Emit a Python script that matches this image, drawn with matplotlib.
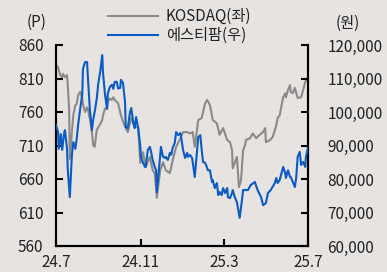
import matplotlib
matplotlib.use("Agg")
import matplotlib.pyplot as plt
import numpy as np

plt.rcParams['font.family'] = ['Noto Sans CJK KR', 'DejaVu Sans']

# Days since 2024-07-01
kosdaq_days = [0, 3, 6, 9, 10, 13, 16, 17, 19, 20, 23, 25, 28, 30, 32, 35, 38, 39, 42, 45,
               46, 49, 52, 54, 56, 59, 61, 64, 67, 68, 71, 74, 75, 78, 81, 83, 85, 88, 90, 94,
               100, 104, 109, 114, 119, 122, 126, 130, 136, 140, 143, 146, 151, 155, 159, 165,
               169, 174, 180, 184, 190, 194, 198, 201, 206, 211, 216, 219, 223, 227, 233, 237,
               242, 248, 252, 255, 256, 262, 265, 268, 271, 274, 275, 281, 285, 290, 295, 300,
               303, 304, 310, 314, 319, 321, 324, 326, 329, 332, 333, 336, 339, 340, 343, 346,
               350, 355, 358, 361, 365]
kosdaq = [830, 827, 815, 812, 817, 812, 815, 800, 765, 690, 730, 755, 770, 772, 785, 790, 780,
          772, 760, 767, 765, 750, 730, 710, 708, 733, 737, 742, 748, 755, 765, 767, 775, 780,
          778, 782, 778, 775, 773, 755, 738, 730, 751, 738, 738, 684, 700, 678, 693, 673, 669,
          632, 673, 685, 673, 669, 688, 708, 720, 730, 730, 728, 730, 708, 748, 751, 773, 778,
          770, 748, 743, 726, 736, 718, 715, 703, 676, 693, 648, 658, 703, 711, 718, 721, 728,
          721, 726, 730, 736, 715, 718, 723, 740, 751, 755, 766, 782, 788, 782, 793, 800, 790,
          788, 796, 781, 782, 793, 805, 812]

stpharm_days = [0, 3, 4, 7, 9, 12, 13, 16, 17, 20, 23, 25, 28, 30, 32, 35, 38, 39, 42, 45, 46,
                49, 52, 54, 56, 59, 61, 64, 67, 68, 71, 74, 75, 78, 81, 83, 85, 88, 90, 93, 94,
                97, 100, 101, 104, 107, 109, 112, 114, 116, 119, 122, 123, 126, 129, 130, 133,
                136, 138, 140, 143, 145, 146, 149, 152, 155, 158, 159, 162, 165, 167, 169, 172,
                174, 177, 180, 182, 184, 187, 190, 191, 194, 197, 198, 201, 204, 206, 209, 211,
                213, 216, 219, 220, 223, 226, 227, 230, 233, 235, 237, 240, 242, 245, 248, 249,
                252, 255, 256, 259, 262, 264, 266, 269, 271, 274, 278, 282, 288, 292, 297, 300,
                304, 307, 311, 317, 319, 321, 324, 329, 332, 333, 336, 339, 340, 343, 346, 348,
                350, 353, 355, 358, 361, 362, 365]
stpharm = [96100, 94000, 89000, 93400, 88700, 94000, 94600, 89000, 83000, 74600, 87100, 91000,
           89000, 92000, 96100, 100900, 105100, 112800, 114900, 114900, 111000, 100900, 94600,
           97900, 100000, 103900, 108100, 112000, 117000, 112000, 105100, 100900, 105400,
           107500, 108100, 106900, 109000, 109000, 107000, 107200, 109600, 108700, 103000,
           95500, 95200, 99700, 101200, 96700, 95200, 98500, 95200, 90100, 86600, 84800, 83600,
           83600, 88700, 89600, 87800, 85700, 83600, 82600, 76100, 82600, 89600, 86600, 86300,
           86600, 85700, 87800, 87200, 89300, 90800, 94000, 93100, 93700, 91600, 88700, 86300,
           87800, 86600, 87200, 86300, 85100, 80600, 87800, 92500, 93100, 88700, 85100, 84800,
           83300, 82600, 82600, 79100, 79700, 77300, 78800, 75200, 76100, 75200, 77300, 75800,
           77300, 74600, 74300, 75800, 76700, 74600, 73100, 70700, 68400, 73100, 76700, 76700,
           76700, 78200, 79100, 76700, 74600, 72200, 72800, 75800, 76700, 78800, 80300, 78800,
           79700, 83600, 81800, 80300, 82600, 80600, 80600, 79100, 77600, 80600, 86600, 88100,
           84200, 85100, 83600, 86600, 89300]

xtick_days = [0, 123, 243, 365]
xtick_labels = ['24.7', '24.11', '25.3', '25.7']
left_ticks = [560, 610, 660, 710, 760, 810, 860]
right_ticks = [60000, 70000, 80000, 90000, 100000, 110000, 120000]

bg = '#E6E3E1'
fs = 11
fig = plt.figure(figsize=(3.87, 2.72), dpi=100, facecolor=bg)
ax = fig.add_axes([56/387, 1-246/272, (308-56)/387, (246-45)/272])
ax.set_facecolor(bg)
ax2 = ax.twinx()

l1, = ax.plot(kosdaq_days, kosdaq, color='#8A8A8A', lw=1.5, label='KOSDAQ(좌)', zorder=2)
l2, = ax2.plot(stpharm_days, stpharm, color='#0A5BC4', lw=1.5, label='에스티팜(우)', zorder=3)

ax.set_xlim(0, 365)
ax.set_ylim(560, 860)
ax2.set_ylim(60000, 120000)
ax.set_yticks(left_ticks)
ax2.set_yticks(right_ticks)
ax2.set_yticklabels([f'{v:,}' for v in right_ticks])
ax.set_xticks(xtick_days)
ax.set_xticklabels(xtick_labels)

for a in (ax, ax2):
    a.spines['top'].set_visible(False)
    for s in a.spines.values():
        s.set_linewidth(1.5)
        s.set_color('black')

ax.tick_params(axis='y', direction='in', length=5, width=1.5, pad=9, labelsize=fs)
ax.tick_params(axis='x', direction='in', length=5, width=1.5, pad=6, labelsize=fs)
ax2.tick_params(axis='y', direction='in', length=5, width=1.5, pad=14, labelsize=fs)
for lab in ax.get_yticklabels() + ax2.get_yticklabels() + ax.get_xticklabels():
    lab.set_color('#222222')

fig.text(37/387, 1-22/272, '(P)', fontsize=fs, ha='center', va='center', color='#222222')
fig.text(348/387, 1-23/272, '(원)', fontsize=fs, ha='center', va='center', color='#222222')

leg = fig.legend(handles=[l1, l2], loc='center left', bbox_to_anchor=(100/387, 1-26/272),
                 frameon=False, fontsize=fs, handlelength=3.3, handletextpad=0.5,
                 labelspacing=0.15, borderpad=0)
for t in leg.get_texts():
    t.set_color('#222222')

fig.savefig('out.png', dpi=100, facecolor=bg)
